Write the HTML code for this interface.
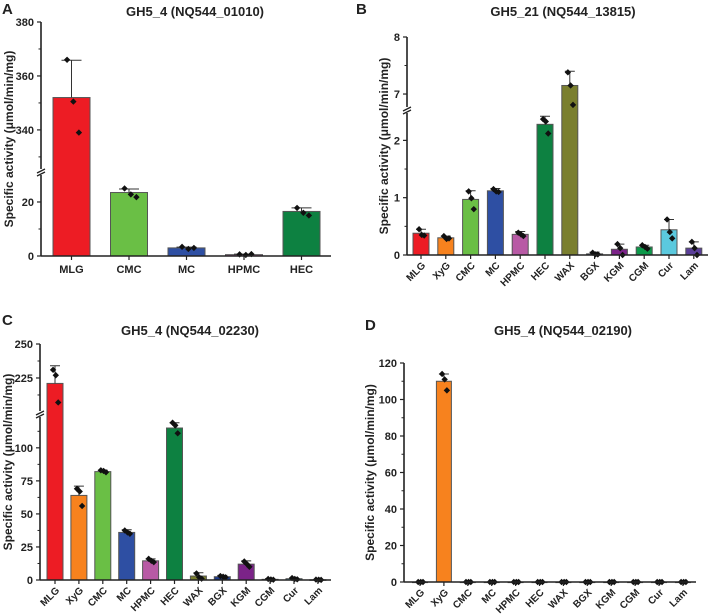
<!DOCTYPE html>
<html><head><meta charset="utf-8">
<style>
html,body{margin:0;padding:0;background:#fff;}
svg{display:block;font-family:"Liberation Sans",Arial,sans-serif;}
</style></head>
<body>
<svg id="fig" width="708" height="616" viewBox="0 0 708 616" xmlns="http://www.w3.org/2000/svg"></svg>
<script>
// ---------- Data ----------
const catsA = ["MLG","CMC","MC","HPMC","HEC"];
const valsA = [352, 23.5, 3, 0.5, 16.5];
const errA  = [365.8, 24.8, 3.3, 0.7, 17.8];
const ptsA  = [[366,350.5,339],[25,22.8,21.8],[3.4,2.6,3.0],[0.6,0.4,0.7],[17.8,16,15]];
const ticksA = [0,20,340,360,380];
const minorA = [10,330,350,370];

const catsB = ["MLG","XyG","CMC","MC","HPMC","HEC","WAX","BGX","KGM","CGM","Cur","Lam"];
const valsB = [0.38,0.30,0.97,1.12,0.36,2.28,7.15,0.02,0.10,0.14,0.44,0.12];
const errB  = [0.45,0.33,1.12,1.16,0.41,2.42,7.40,0.05,0.19,0.17,0.62,0.23];
const ptsB  = [[0.45,0.35,0.34],[0.33,0.28,0.29],[1.11,0.99,0.80],[1.15,1.11,1.10],[0.39,0.36,0.33],[2.37,2.33,2.12],[7.38,7.15,6.81],[0.04,0.01,0.01],[0.19,0.12,0.0],[0.17,0.14,0.11],[0.62,0.40,0.29],[0.23,0.12,0.0]];
const ticksB = [0,1,2,7,8];
const minorB = [0.5,1.5,7.5];

const catsC = ["MLG","XyG","CMC","MC","HPMC","HEC","WAX","BGX","KGM","CGM","Cur","Lam"];
const valsC = [221,64,82,36,14.5,115,3,2.5,12,0.5,1,0.2];
const errC  = [234,71,83,38,16,119,5.5,3.5,14.5,1,1.5,0.3];
const ptsC  = [[231,227,207],[69,67,56],[83,82.5,81.5],[37.5,36,35],[16,14.5,13.5],[119,117,111],[5,2,1],[3,2.5,2],[14,12,10],[0.8,0.4,0.2],[1.5,0.8,0.5],[0.3,0.2,0.1]];
const ticksC = [0,25,50,75,100,225,250];
const minorC = [12.5,37.5,62.5,87.5,112.5,212.5,237.5];

const catsD = ["MLG","XyG","CMC","MC","HPMC","HEC","WAX","BGX","KGM","CGM","Cur","Lam"];
const valsD = [0,110,0,0,0,0,0,0,0,0,0,0];
const errD  = [0,114,0,0,0,0,0,0,0,0,0,0];
const ptsD  = [[0,0,0],[114,111,105],[0,0,0],[0,0,0],[0,0,0],[0,0,0],[0,0,0],[0,0,0],[0,0,0],[0,0,0],[0,0,0],[0,0,0]];
const ticksD = [0,20,40,60,80,100,120];
const minorD = [10,30,50,70,90,110];

const colorMap = {MLG:"#ed1c24",XyG:"#f7821e",CMC:"#6abf45",MC:"#2e4fa3",HPMC:"#b85aa5",HEC:"#0d8141",WAX:"#7a7f2f",BGX:"#1d3a8a",KGM:"#7b2388",CGM:"#0c9a4a",Cur:"#5bc9de",Lam:"#5b3f99"};

// ---------- Drawing ----------
const svg = document.getElementById('fig');
const NS = "http://www.w3.org/2000/svg";
function mk(tag, attrs, parent){
  const e = document.createElementNS(NS, tag);
  for (const k in attrs) e.setAttribute(k, attrs[k]);
  (parent||svg).appendChild(e);
  return e;
}

function makeScale(lo, up){
  return function(v){
    if (!up || v <= lo.v1) return lo.p0 + (v - lo.v0) * (lo.p1 - lo.p0) / (lo.v1 - lo.v0);
    return up.p0 + (v - up.v0) * (up.p1 - up.p0) / (up.v1 - up.v0);
  };
}

function panel(cfg){
  const g = mk('g', {});
  
  
  const y = makeScale(cfg.lo, cfg.up);
  const n = cfg.cats.length;
  const xc = i => cfg.x0 + i * cfg.step;

  const L = mk('text', {x:cfg.letterX, y:cfg.letterY, 'font-size':15, 'font-weight':'bold', fill:'#222'}, g);
  L.textContent = cfg.letter;
  
  
  const T = mk('text', {x:cfg.titleX, y:cfg.titleY, 'font-size':13, 'font-weight':'bold', 'text-anchor':'middle', fill:'#222'}, g);
  T.textContent = cfg.title;
  
  

  const midY = (cfg.lo.p0 + (cfg.up ? cfg.up.p1 : cfg.lo.p1)) / 2;
  const YT = mk('text', {x:cfg.ytX, y:midY, 'font-size':12, 'font-weight':'bold', 'text-anchor':'middle', fill:'#222', transform:`rotate(-90 ${cfg.ytX} ${midY})`}, g);
  YT.textContent = "Specific activity  (\u03bcmol/min/mg)";
  
  

  for (let i = 0; i < n; i++){
    const c = cfg.cats[i];
    const top = y(cfg.vals[i]), base = y(0);
    const r = mk('rect', {x:xc(i)-cfg.bw/2, y:top, width:cfg.bw, height:Math.max(0.6, base-top), fill:colorMap[c], stroke:'#555', 'stroke-width':1}, g);
    
    
    const et = y(cfg.err[i]);
    if (base - et > 1){
      const el = mk('path', {d:`M${xc(i)} ${top} V${et} M${xc(i)-cfg.cap} ${et} H${xc(i)+cfg.cap}`, stroke:'#333', 'stroke-width':1, fill:'none'}, g);
      
      
    }
    const offs = [-0.12, 0.05, 0.2];
    for (let k = 0; k < cfg.pts[i].length; k++){
      const py = y(cfg.pts[i][k]);
      const px = xc(i) + offs[k] * cfg.bw;
      const p = mk('path', {d:`M${px} ${py-3.2} L${px+3.2} ${py} L${px} ${py+3.2} L${px-3.2} ${py} Z`, fill:'#111'}, g);
      
      
    }
  }

  const ax = cfg.axisX;
  let d;
  if (cfg.up){
    const bp = cfg.lo.p1;
    d = `M${ax} ${cfg.lo.p0} V${bp+3} M${ax} ${bp-3} V${cfg.up.p1}`;
  } else d = `M${ax} ${cfg.lo.p0} V${cfg.lo.p1}`;
  const ya = mk('path', {d, stroke:'#222', 'stroke-width':1.6, fill:'none'}, g);
  
  
  if (cfg.up){
    const bp = cfg.lo.p1;
    const br = mk('path', {d:`M${ax-4} ${bp+1} L${ax+4} ${bp-3} M${ax-4} ${bp+4} L${ax+4} ${bp}`, stroke:'#222', 'stroke-width':1.3, fill:'none'}, g);
    
    
  }
  const xa = mk('path', {d:`M${ax} ${y(0)} H${cfg.axisEnd}`, stroke:'#222', 'stroke-width':1.6, fill:'none'}, g);
  
  

  for (const t of cfg.ticks){
    const ty = y(t);
    mk('path', {d:`M${ax-4} ${ty} H${ax}`, stroke:'#222', 'stroke-width':1.2}, g);
    const tl = mk('text', {x:ax-7, y:ty+4, 'font-size':11, 'font-weight':'bold', 'text-anchor':'end', fill:'#222'}, g);
    tl.textContent = String(t);
    
    
  }
  for (const t of cfg.minor){
    const ty = y(t);
    mk('path', {d:`M${ax-2.5} ${ty} H${ax}`, stroke:'#222', 'stroke-width':1}, g);
  }
  for (let i = 0; i < n; i++){
    const b = y(0);
    mk('path', {d:`M${xc(i)} ${b} V${b+4}`, stroke:'#222', 'stroke-width':1.2}, g);
    let lab;
    if (cfg.rot){
      lab = mk('text', {x:xc(i)+5, y:b+11, 'font-size':10, 'font-weight':'bold', 'text-anchor':'end', fill:'#222', transform:`rotate(-45 ${xc(i)+5} ${b+11})`}, g);
    } else {
      lab = mk('text', {x:xc(i), y:b+17, 'font-size':11, 'font-weight':'bold', 'text-anchor':'middle', fill:'#222'}, g);
    }
    lab.textContent = cfg.cats[i];
    
    
  }
}

panel({name:'panel-a', letter:'A', letterX:2, letterY:14, title:'GH5_4 (NQ544_01010)', titleX:195, titleY:16, ytX:13,
  cats:catsA, vals:valsA, err:errA, pts:ptsA, ticks:ticksA, minor:minorA,
  lo:{v0:0,p0:256,v1:31.1,p1:172}, up:{v0:324.4,p0:172,v1:380,p1:22},
  axisX:41, axisEnd:331, x0:71.5, step:57.5, bw:37, cap:10, rot:false});

panel({name:'panel-b', letter:'B', letterX:356, letterY:14, title:'GH5_21 (NQ544_13815)', titleX:563, titleY:16, ytX:388,
  cats:catsB, vals:valsB, err:errB, pts:ptsB, ticks:ticksB, minor:minorB,
  lo:{v0:0,p0:255,v1:2.53,p1:110}, up:{v0:6.72,p0:110,v1:8,p1:37},
  axisX:407, axisEnd:708, x0:421, step:24.8, bw:16, cap:5, rot:true});

panel({name:'panel-c', letter:'C', letterX:2, letterY:325, title:'GH5_4 (NQ544_02230)', titleX:190, titleY:335, ytX:12,
  cats:catsC, vals:valsC, err:errC, pts:ptsC, ticks:ticksC, minor:minorC,
  lo:{v0:0,p0:580,v1:125.6,p1:414}, up:{v0:198.5,p0:414,v1:250,p1:344},
  axisX:40, axisEnd:331, x0:55, step:23.9, bw:16, cap:5, rot:true});

panel({name:'panel-d', letter:'D', letterX:365, letterY:330, title:'GH5_4 (NQ544_02190)', titleX:563, titleY:335, ytX:374,
  cats:catsD, vals:valsD, err:errD, pts:ptsD, ticks:ticksD, minor:minorD,
  lo:{v0:0,p0:582,v1:120,p1:363}, up:null,
  axisX:404, axisEnd:696, x0:420, step:23.9, bw:15, cap:5, rot:true});
</script>
</body></html>
